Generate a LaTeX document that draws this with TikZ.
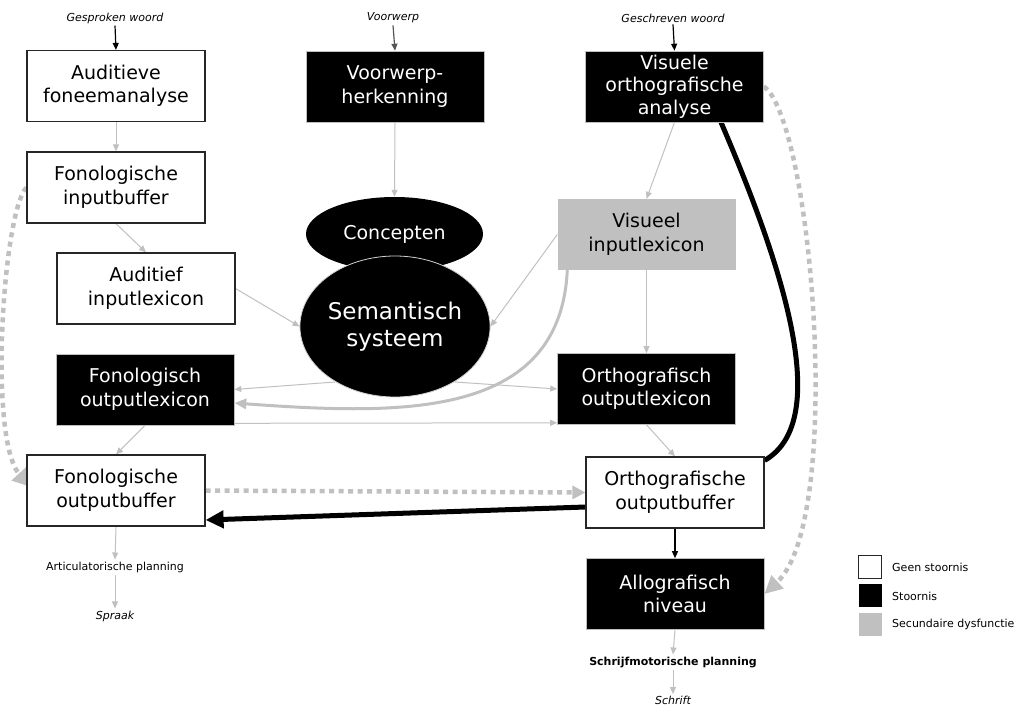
\documentclass[tikz,border=0pt]{standalone}
\usepackage{fontspec}
\setmainfont{DejaVu Sans}[ItalicFont={DejaVu Sans Oblique},BoldFont={DejaVu Sans Bold}]
\usetikzlibrary{arrows.meta,shapes.geometric,calc}
\pgfdeclarelayer{bg}
\pgfsetlayers{bg,main}
\definecolor{lgray}{RGB}{192,192,192}
\definecolor{dgray}{RGB}{85,85,85}
\begin{document}
\begin{tikzpicture}[x=1pt,y=-1pt,
  box/.style={rectangle,minimum width=178pt,minimum height=71pt,inner sep=0pt,align=center,font=\fontsize{19}{23.5}\selectfont},
  wbox/.style={box,draw=black!85,line width=1.2pt,fill=white},
  kbox/.style={box,fill=black,draw=gray!50,line width=0.6pt,text=white},
  gbox/.style={box,fill=lgray,text=black},
  small/.style={inner sep=2pt,font=\fontsize{11}{13}\selectfont},
  smallit/.style={inner sep=2pt,font=\fontsize{11}{13}\selectfont\itshape},
  legbox/.style={rectangle,minimum width=23pt,minimum height=23pt,inner sep=0pt},
  legtext/.style={anchor=west,inner sep=0pt,font=\fontsize{11}{13}\selectfont},
  garrow/.style={draw=lgray,line width=1pt,-{Triangle[width=6pt,length=7pt]}},
  karrow/.style={draw=black,line width=1.2pt,-{Triangle[width=6pt,length=7pt]}},
  darrow/.style={draw=dgray,line width=1.2pt,-{Triangle[width=6pt,length=7pt]}},
  dotarrow/.style={draw=lgray,line width=4.5pt,dash pattern=on 5pt off 4.5pt},
  thickk/.style={draw=black,line width=5pt},
  thickg/.style={draw=lgray,line width=3pt,-{Triangle[width=10pt,length=12pt]}}]
\useasboundingbox (0,0) rectangle (1019,709);
% left column
\node[smallit] (gw) at (115,18) {Gesproken woord};
\node[wbox] (afa) at (116,86) {Auditieve\\foneemanalyse};
\node[wbox] (fib) at (116,187.5) {Fonologische\\inputbuffer};
\node[wbox] (ail) at (146,288.5) {Auditief\\inputlexicon};
\node[kbox] (fol) at (145,389.5) {Fonologisch\\outputlexicon};
\node[wbox] (fob) at (116,490.5) {Fonologische\\outputbuffer};
\node[small] (ap) at (115,567) {Articulatorische planning};
\node[smallit] (sp) at (115,616) {Spraak};
% middle column
\node[smallit] (vw) at (393,18) {Voorwerp};
\node[kbox] (vh) at (395,86.5) {Voorwerp-\\herkenning};
\node[ellipse,fill=black,minimum width=177pt,minimum height=74pt,inner sep=0pt,text=white,font=\fontsize{19}{23.5}\selectfont] (con) at (394.5,234) {Concepten};
\node[ellipse,fill=black,draw=gray!35,line width=0.8pt,minimum width=178pt,minimum height=141pt,inner sep=0pt,align=center,text=white,font=\fontsize{23}{27}\selectfont] (sem) at (395,326.5) {Semantisch\\systeem};
% right column
\node[smallit] (gsw) at (673,18) {Geschreven woord};
\node[kbox,font=\fontsize{19}{22.5}\selectfont] (voa) at (674.5,86.5) {Visuele\\orthografische\\analyse};
\node[gbox] (vil) at (646.5,234.5) {Visueel\\inputlexicon};
\node[kbox] (ool) at (646.5,389) {Orthografisch\\outputlexicon};
\node[wbox] (oob) at (675,492.5) {Orthografische\\outputbuffer};
\node[kbox] (an) at (675,594) {Allografisch\\niveau};
\node[small,font=\fontsize{11}{13}\selectfont\bfseries] (smp) at (673,662) {Schrijfmotorische planning};
\node[smallit] (sch) at (673,700.5) {Schrift};
% legend
\node[legbox,draw=black!85,line width=1pt,fill=white] (l1) at (870,567) {};
\node[legbox,fill=black] (l2) at (870,595.5) {};
\node[legbox,fill=lgray] (l3) at (870,624) {};
\node[legtext] (t1) at (892,567) {Geen stoornis};
\node[legtext] (t2) at (892,596) {Stoornis};
\node[legtext] (t3) at (892,624) {Secundaire dysfunctie};
% connectors
\begin{pgfonlayer}{bg}
\draw[karrow] (gw.south) -- (afa.north);
\draw[darrow] (vw.south) -- (vh.north);
\draw[karrow] (gsw.south) -- (voa.north);
\draw[garrow] (afa.south) -- (fib.north);
\draw[garrow] (fib.south) -- (ail.north);
\draw[garrow] (ail.east) -- (sem.west);
\draw[garrow] (vil.west) -- (sem.east);
\draw[garrow] (vh.south) -- (con.north);
\draw[garrow] (voa.south) -- (vil.north);
\draw[garrow] (vil.south) -- (ool.north);
\draw[garrow] (sem.223) -- (fol.east);
\draw[garrow] (sem.317) -- (ool.west);
\draw[garrow] ([yshift=2pt]fol.south east) -- ([yshift=2pt]ool.south west);
\draw[garrow] (fol.south) -- (fob.north);
\draw[garrow] (ool.south) -- (oob.north);
\draw[karrow] (oob.south) -- (an.north);
\draw[garrow] (fob.south) -- (ap.north);
\draw[garrow] (ap.south) -- (sp.north);
\draw[garrow] (an.south) -- (smp.north);
\draw[garrow] (smp.south) -- (sch.north);
% dotted secondary links
\draw[dotarrow,-{Triangle[width=13pt,length=13pt]}] (fob.east) -- (oob.west);
\coordinate (lend) at (31,487);
\draw[dotarrow,-{Triangle[width=19pt,length=18pt]}] (fib.west) .. controls (3,212) and (-12,440) .. (lend);
\draw[dotarrow,-{Triangle[width=17pt,length=18pt]}] (voa.east) .. controls (812,120) and (845,520) .. (an.east);
% thick links
\draw[thickk,-{Triangle[width=17pt,length=18pt]}] ([yshift=-14.5pt]oob.west) -- ([yshift=-29.5pt]fob.east);
\draw[thickk] ([xshift=46.5pt]voa.south) .. controls (780,260) and (835,420) .. ([yshift=-4pt]oob.north east);
\draw[thickg] ([xshift=10pt]vil.south west) .. controls (560,420) and (400,415) .. ([yshift=-13.5pt]fol.east);
\end{pgfonlayer}
\end{tikzpicture}
\end{document}
